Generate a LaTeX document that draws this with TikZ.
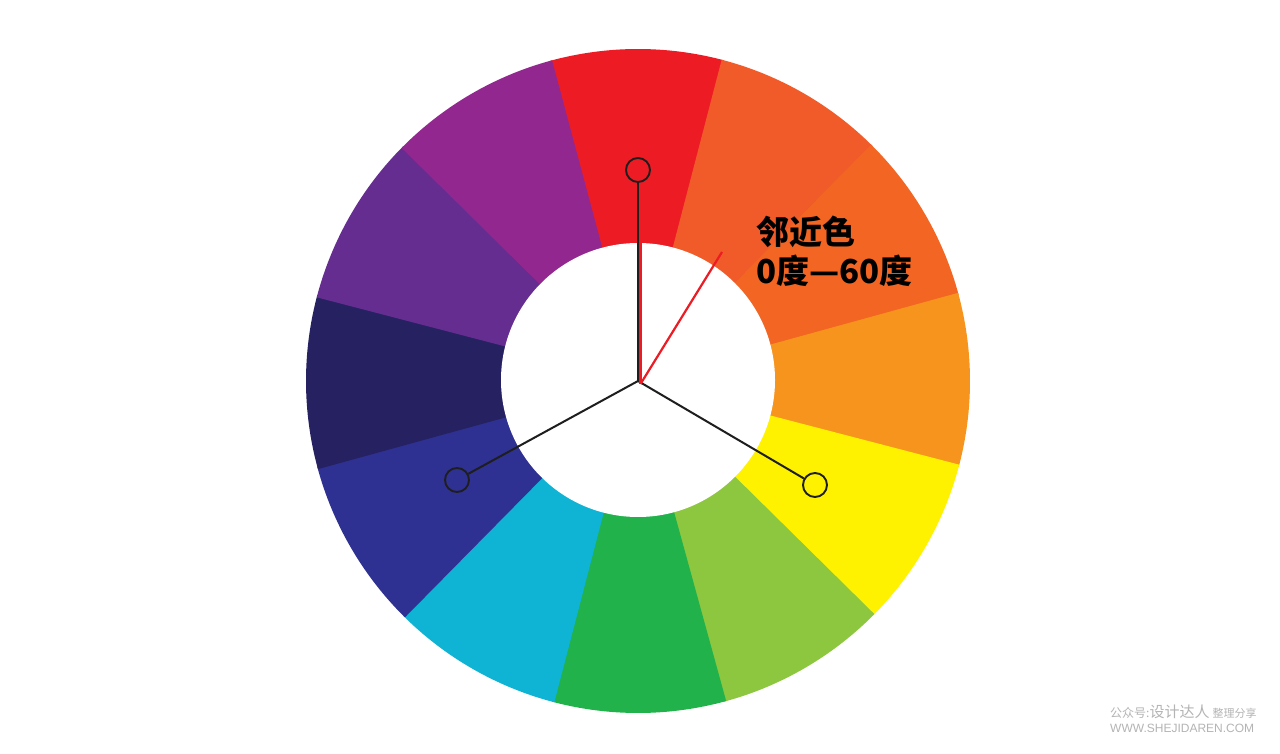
\documentclass[tikz,border=0pt]{standalone}
\usepackage{fontspec}
\setmainfont{Liberation Sans}
\newfontfamily\cjk{Noto Sans CJK SC}
\newfontfamily\wmlat{Liberation Sans}
\definecolor{cRed}{HTML}{ED1C24}
\definecolor{cRedOr}{HTML}{F15A29}
\definecolor{cOrA}{HTML}{F26522}
\definecolor{cOrB}{HTML}{F7941D}
\definecolor{cYel}{HTML}{FFF200}
\definecolor{cYGr}{HTML}{8DC63F}
\definecolor{cGrn}{HTML}{22B24B}
\definecolor{cCyn}{HTML}{0FB4D5}
\definecolor{cBlu}{HTML}{2E3192}
\definecolor{cNav}{HTML}{262262}
\definecolor{cPur}{HTML}{662D91}
\definecolor{cVio}{HTML}{92278F}
\definecolor{wmgray}{HTML}{B4B4B4}
\definecolor{lineblk}{HTML}{1E1E1E}
\begin{document}
\begin{tikzpicture}[x=1pt,y=1pt,
  ring/.style={circle,draw=lineblk,line width=1.9pt,minimum size=24pt,inner sep=0pt},
  spoke/.style={draw=lineblk,line width=2pt},
  redline/.style={draw=cRed,line width=2.2pt},
  lbl/.style={font=\cjk\bfseries\fontsize{33}{39}\selectfont,text=black,align=left,inner sep=0pt}]
\useasboundingbox (0,0) rectangle (1280,753);
\fill[white] (0,0) rectangle (1280,753);
\coordinate (c) at (638,372);
% colour wheel
\begin{scope}[shift={(638,372)}]
\foreach \a/\col in {75/cRed,45/cRedOr,15/cOrA,-15/cOrB,-45/cYel,-75/cYGr,-105/cGrn,-135/cCyn,-165/cBlu,165/cNav,135/cPur,105/cVio}{
  \fill[\col] (0,0) -- (\a:332) arc[start angle=\a,delta angle=30.4,radius=332] -- cycle;
}
\fill[white] (0,1) circle[radius=137];
\end{scope}
% rings
\node[ring] (rt) at (638,583) {};
\node[ring] (rl) at (457,273) {};
\node[ring] (rr) at (815,268) {};
% spokes
\draw[spoke] (c) -- (rt);
\draw[spoke] (c) -- (rl);
\draw[spoke] (c) -- (rr);
% red lines
\coordinate (r0) at (640.5,369);
\coordinate (r1) at (640.5,510);
\coordinate (r2) at (722,501);
\draw[redline] (r0) -- (r1);
\draw[redline] (r0) -- (r2);
% label
\node[lbl,anchor=north west] (txt) at (756,537) {邻近色\\0度—60度};
% watermark
\node[anchor=base west,inner sep=0pt,text=wmgray] (wm1) at (1110,36)
  {{\cjk\fontsize{12}{12}\selectfont 公众号:}{\cjk\fontsize{15}{15}\selectfont 设计达人}\hspace{3pt}{\cjk\fontsize{11}{11}\selectfont 整理分享}};
\node[anchor=base west,inner sep=0pt,text=wmgray] (wm2) at (1110,21)
  {\wmlat\fontsize{12}{12}\selectfont WWW.SHEJIDAREN.COM};
\end{tikzpicture}
\end{document}
